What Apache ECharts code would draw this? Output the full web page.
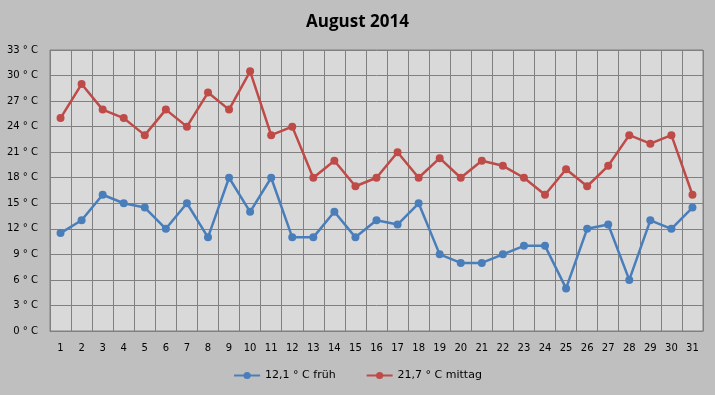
<!DOCTYPE html>
<html><head><meta charset="utf-8">
<script src="https://cdn.jsdelivr.net/npm/echarts@6/dist/echarts.min.js"></script>
<style>html,body{margin:0;padding:0;background:#bfbfbf}#c{width:715px;height:395px}</style>
</head><body><div id="c"></div>
<script>
const days = ['1','2','3','4','5','6','7','8','9','10','11','12','13','14','15','16','17','18','19','20','21','22','23','24','25','26','27','28','29','30','31'];
const frueh = [11.5,13,16,15,14.5,12,15,11,18,14,18,11,11,14,11,13,12.5,15,9,8,8,9,10,10,5,12,12.5,6,13,12,14.5];
const mittag = [25,29,26,25,23,26,24,28,26,30.5,23,24,18,20,17,18,21,18,20.3,18,20,19.4,18,16,19,17,19.4,23,22,23,16];
const seriesNames = ['12,1 ° C früh','21,7 ° C mittag'];
const titleText = 'August 2014';

const chart = echarts.init(document.getElementById('c'), null, {renderer:'canvas'});
const font = 'DejaVu Sans, sans-serif';
chart.setOption({
  backgroundColor:'#bfbfbf',
  animation:false,
  title:{text:titleText,left:'center',top:9,textStyle:{fontFamily:'Open Sans, sans-serif',fontSize:17,fontWeight:'bold',color:'#000'}},
  legend:{bottom:9,left:'center',itemWidth:26,itemHeight:9,itemGap:30,
    textStyle:{fontFamily:font,fontSize:11,color:'#000'},data:seriesNames},
  grid:{left:50,right:12,top:50,bottom:64,show:true,backgroundColor:'#d9d9d9',borderColor:'#808080',borderWidth:1},
  xAxis:{type:'category',data:days,boundaryGap:true,
    axisLine:{show:true,lineStyle:{color:'#808080'}},axisTick:{show:false},
    axisLabel:{fontFamily:font,fontSize:10,color:'#000',margin:12,interval:0},
    splitLine:{show:true,interval:0,lineStyle:{color:'#808080',width:1}}},
  yAxis:{type:'value',min:0,max:33,interval:3,
    axisLine:{show:false},axisTick:{show:false},
    axisLabel:{fontFamily:font,fontSize:10,color:'#000',margin:12,formatter:'{value} ° C'},
    splitLine:{show:true,lineStyle:{color:'#808080',width:1}}},
  series:[
    {name:seriesNames[0],type:'line',data:frueh,symbol:'circle',symbolSize:8,
      lineStyle:{color:'#4a7ebb',width:2.5},itemStyle:{color:'#4a7ebb'}},
    {name:seriesNames[1],type:'line',data:mittag,symbol:'circle',symbolSize:8,
      lineStyle:{color:'#be4b48',width:2.5},itemStyle:{color:'#be4b48'}}
  ]
});
</script></body></html>
